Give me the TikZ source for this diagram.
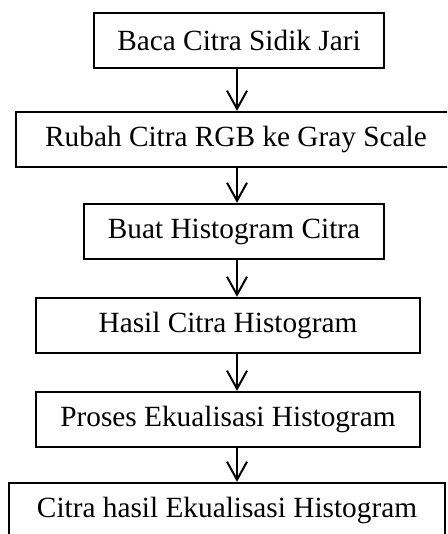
\documentclass[tikz,border=0pt]{standalone}
\usepackage{fontspec}
\setmainfont{Liberation Serif}
\usetikzlibrary{arrows.meta}
\begin{document}
\begin{tikzpicture}[x=1pt,y=-1pt,
 box/.style={draw, line width=2.4pt, inner sep=0pt, minimum height=55pt, font=\fontsize{29.3}{34}\selectfont, anchor=center},
 flow/.style={line width=2pt, -{Straight Barb[length=18pt,width=20pt,line width=2pt]}}]
\useasboundingbox (0,0) rectangle (447,534);
\clip (0,0) rectangle (447,534);
\node[box, minimum width=290pt] (b1) at (239,40.5) {Baca Citra Sidik Jari};
\node[box, minimum width=440pt] (b2) at (236,139.5) {Rubah Citra RGB ke Gray Scale};
\node[box, minimum width=300pt] (b3) at (234,231.5) {Buat Histogram Citra};
\node[box, minimum width=384pt] (b4) at (228,325.5) {Hasil Citra Histogram};
\node[box, minimum width=384pt] (b5) at (228,419.5) {Proses Ekualisasi Histogram};
\node[box, minimum width=436pt] (b6) at (227,510.5) {Citra hasil Ekualisasi Histogram};
\coordinate (ax) at (237,0);
\draw[flow] (b1.south -| ax) -- (b2.north -| ax);
\draw[flow] (b2.south -| ax) -- (b3.north -| ax);
\draw[flow] (b3.south -| ax) -- (b4.north -| ax);
\draw[flow] (b4.south -| ax) -- (b5.north -| ax);
\draw[flow] (b5.south -| ax) -- (b6.north -| ax);
\end{tikzpicture}
\end{document}
